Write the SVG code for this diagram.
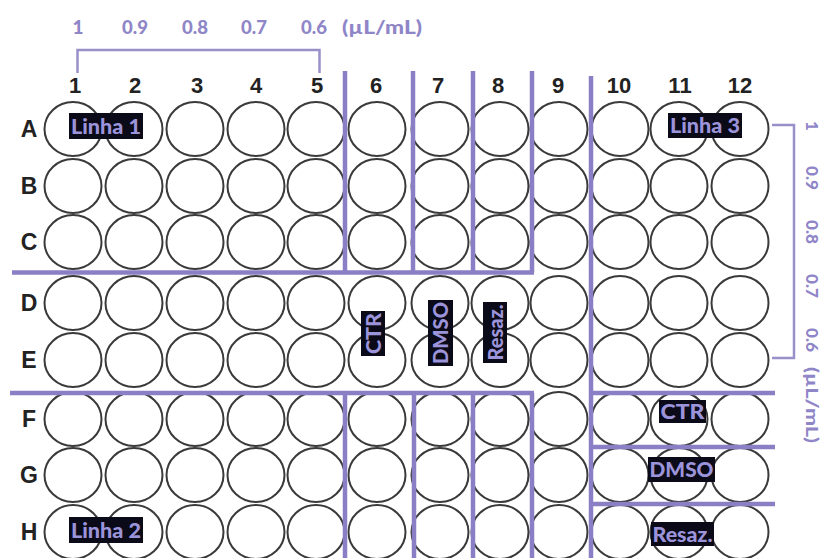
<svg xmlns="http://www.w3.org/2000/svg" width="822" height="558" viewBox="0 0 822 558">
<style>
.w{fill:none;stroke:#3a3a3a;stroke-width:2}
.hd{font-family:"Liberation Sans",Arial,sans-serif;font-weight:bold;font-size:22px;fill:#222;text-anchor:middle}
.rw{font-family:"Liberation Sans",Arial,sans-serif;font-weight:bold;font-size:23px;fill:#222;text-anchor:middle}
.conc{font-family:Lato,"Open Sans",sans-serif;font-weight:900;font-size:19px;fill:#8f86c8}
.concr{font-family:Lato,"Open Sans",sans-serif;font-weight:900;font-size:17px;fill:#8f86c8}
.div{stroke:#8a7fc4;stroke-width:4.5;fill:none}
.br{stroke:#9890c8;stroke-width:2.5;fill:none}
.box{fill:#0b0a18}
.lb{font-family:Lato,"Open Sans",sans-serif;font-weight:900;font-size:21px;fill:#9c94da;text-anchor:middle}
</style>
<defs>
<ellipse id="well" cx="0" cy="0" rx="28.5" ry="27" class="w"/>
</defs>
<rect width="822" height="558" fill="#fff"/>

<g id="concentration-top">
<text class="conc" x="78" y="34" text-anchor="middle">1</text>
<text class="conc" x="135" y="34" text-anchor="middle" textLength="26" lengthAdjust="spacingAndGlyphs">0.9</text>
<text class="conc" x="195" y="34" text-anchor="middle" textLength="26" lengthAdjust="spacingAndGlyphs">0.8</text>
<text class="conc" x="254" y="34" text-anchor="middle" textLength="26" lengthAdjust="spacingAndGlyphs">0.7</text>
<text class="conc" x="314" y="34" text-anchor="middle" textLength="26" lengthAdjust="spacingAndGlyphs">0.6</text>
<text class="conc" x="342" y="34" textLength="80" lengthAdjust="spacingAndGlyphs">(µL/mL)</text>
<path class="br" d="M77.5,73 V50 H319.5 V73"/>
</g>

<g id="concentration-right">
<text class="concr" transform="translate(806,126) rotate(90)" text-anchor="middle">1</text>
<text class="concr" transform="translate(806,178) rotate(90)" text-anchor="middle" textLength="24" lengthAdjust="spacingAndGlyphs">0.9</text>
<text class="concr" transform="translate(806,232) rotate(90)" text-anchor="middle" textLength="24" lengthAdjust="spacingAndGlyphs">0.8</text>
<text class="concr" transform="translate(806,286) rotate(90)" text-anchor="middle" textLength="24" lengthAdjust="spacingAndGlyphs">0.7</text>
<text class="concr" transform="translate(806,340) rotate(90)" text-anchor="middle" textLength="24" lengthAdjust="spacingAndGlyphs">0.6</text>
<text class="concr" transform="translate(806,367) rotate(90)" textLength="76" lengthAdjust="spacingAndGlyphs">(µL/mL)</text>
<path class="br" d="M772,125 H794 V358 H772"/>
</g>

<g id="column-headers">
<text class="hd" x="75" y="93">1</text>
<text class="hd" x="135" y="93">2</text>
<text class="hd" x="197" y="93">3</text>
<text class="hd" x="256" y="93">4</text>
<text class="hd" x="317" y="93">5</text>
<text class="hd" x="376" y="93">6</text>
<text class="hd" x="438" y="93">7</text>
<text class="hd" x="498" y="93">8</text>
<text class="hd" x="558" y="93">9</text>
<text class="hd" x="619" y="93">10</text>
<text class="hd" x="680" y="93">11</text>
<text class="hd" x="740" y="93">12</text>
</g>

<g id="row-headers">
<text class="rw" x="29" y="137">A</text>
<text class="rw" x="29" y="194">B</text>
<text class="rw" x="29" y="250">C</text>
<text class="rw" x="29" y="311">D</text>
<text class="rw" x="29" y="368">E</text>
<text class="rw" x="29" y="427">F</text>
<text class="rw" x="29" y="483">G</text>
<text class="rw" x="29" y="540">H</text>
</g>

<g id="wells">
<g id="row-A"><use href="#well" x="73" y="129"/><use href="#well" x="134" y="129"/><use href="#well" x="195" y="129"/><use href="#well" x="256" y="129"/><use href="#well" x="316" y="129"/><use href="#well" x="377" y="129"/><use href="#well" x="440" y="129"/><use href="#well" x="500" y="129"/><use href="#well" x="559" y="129"/><use href="#well" x="620" y="129"/><use href="#well" x="679" y="129"/><use href="#well" x="740" y="129"/></g>
<g id="row-B"><use href="#well" x="73" y="186"/><use href="#well" x="134" y="186"/><use href="#well" x="195" y="186"/><use href="#well" x="256" y="186"/><use href="#well" x="316" y="186"/><use href="#well" x="377" y="186"/><use href="#well" x="440" y="186"/><use href="#well" x="500" y="186"/><use href="#well" x="559" y="186"/><use href="#well" x="620" y="186"/><use href="#well" x="679" y="186"/><use href="#well" x="740" y="186"/></g>
<g id="row-C"><use href="#well" x="73" y="242"/><use href="#well" x="134" y="242"/><use href="#well" x="195" y="242"/><use href="#well" x="256" y="242"/><use href="#well" x="316" y="242"/><use href="#well" x="377" y="242"/><use href="#well" x="440" y="242"/><use href="#well" x="500" y="242"/><use href="#well" x="559" y="242"/><use href="#well" x="620" y="242"/><use href="#well" x="679" y="242"/><use href="#well" x="740" y="242"/></g>
<g id="row-D"><use href="#well" x="73" y="303"/><use href="#well" x="134" y="303"/><use href="#well" x="195" y="303"/><use href="#well" x="256" y="303"/><use href="#well" x="316" y="303"/><use href="#well" x="377" y="303"/><use href="#well" x="440" y="303"/><use href="#well" x="500" y="303"/><use href="#well" x="559" y="303"/><use href="#well" x="620" y="303"/><use href="#well" x="679" y="303"/><use href="#well" x="740" y="303"/></g>
<g id="row-E"><use href="#well" x="73" y="360"/><use href="#well" x="134" y="360"/><use href="#well" x="195" y="360"/><use href="#well" x="256" y="360"/><use href="#well" x="316" y="360"/><use href="#well" x="377" y="360"/><use href="#well" x="440" y="360"/><use href="#well" x="500" y="360"/><use href="#well" x="559" y="360"/><use href="#well" x="620" y="360"/><use href="#well" x="679" y="360"/><use href="#well" x="740" y="360"/></g>
<g id="row-F"><use href="#well" x="73" y="419"/><use href="#well" x="134" y="419"/><use href="#well" x="195" y="419"/><use href="#well" x="256" y="419"/><use href="#well" x="316" y="419"/><use href="#well" x="377" y="419"/><use href="#well" x="440" y="419"/><use href="#well" x="500" y="419"/><use href="#well" x="559" y="419"/><use href="#well" x="620" y="419"/><use href="#well" x="679" y="419"/><use href="#well" x="740" y="419"/></g>
<g id="row-G"><use href="#well" x="73" y="475"/><use href="#well" x="134" y="475"/><use href="#well" x="195" y="475"/><use href="#well" x="256" y="475"/><use href="#well" x="316" y="475"/><use href="#well" x="377" y="475"/><use href="#well" x="440" y="475"/><use href="#well" x="500" y="475"/><use href="#well" x="559" y="475"/><use href="#well" x="620" y="475"/><use href="#well" x="679" y="475"/><use href="#well" x="740" y="475"/></g>
<g id="row-H"><use href="#well" x="73" y="532"/><use href="#well" x="134" y="532"/><use href="#well" x="195" y="532"/><use href="#well" x="256" y="532"/><use href="#well" x="316" y="532"/><use href="#well" x="377" y="532"/><use href="#well" x="440" y="532"/><use href="#well" x="500" y="532"/><use href="#well" x="559" y="532"/><use href="#well" x="620" y="532"/><use href="#well" x="679" y="532"/><use href="#well" x="740" y="532"/></g>
</g>

<g id="dividers">
<path class="div" d="M345,71 V272.5 M413,71 V272.5 M473,71 V272.5 M532,71 V272.5"/>
<path class="div" d="M12,272.5 H534"/>
<path class="div" d="M10,393 H534"/>
<path class="div" d="M345,393 V558 M414,393 V558 M473,393 V558 M532,393 V558"/>
<path class="div" d="M591,76 V558"/>
<path class="div" d="M591,393 H775 M591,447 H775 M591,504 H775"/>
</g>

<g id="label-linha1"><rect class="box" x="69" y="113" width="74" height="26"/><text class="lb" x="106" y="133.5" textLength="70" lengthAdjust="spacingAndGlyphs">Linha 1</text></g>
<g id="label-linha3"><rect class="box" x="668" y="113" width="74" height="25"/><text class="lb" x="705" y="133" textLength="70" lengthAdjust="spacingAndGlyphs">Linha 3</text></g>
<g id="label-linha2"><rect class="box" x="69" y="517" width="74" height="26"/><text class="lb" x="106" y="537.5" textLength="70" lengthAdjust="spacingAndGlyphs">Linha 2</text></g>
<g id="label-ctr-v"><rect class="box" x="361" y="311" width="24" height="45"/><text class="lb" transform="translate(373,333.5) rotate(-90)" y="7.5" textLength="41" lengthAdjust="spacingAndGlyphs">CTR</text></g>
<g id="label-dmso-v"><rect class="box" x="428" y="300" width="25" height="66"/><text class="lb" transform="translate(440.5,333) rotate(-90)" y="7.5" textLength="62" lengthAdjust="spacingAndGlyphs">DMSO</text></g>
<g id="label-resaz-v"><rect class="box" x="483" y="302" width="24" height="61"/><text class="lb" transform="translate(495,332.5) rotate(-90)" y="7.5" textLength="56" lengthAdjust="spacingAndGlyphs">Resaz.</text></g>
<g id="label-ctr-h"><rect class="box" x="659" y="400" width="47" height="23"/><text class="lb" x="682.5" y="419" textLength="44" lengthAdjust="spacingAndGlyphs">CTR</text></g>
<g id="label-dmso-h"><rect class="box" x="648" y="457" width="67" height="25"/><text class="lb" x="681.5" y="477" textLength="64" lengthAdjust="spacingAndGlyphs">DMSO</text></g>
<g id="label-resaz-h"><rect class="box" x="651" y="522" width="63" height="24"/><text class="lb" x="682.5" y="541.5" textLength="60" lengthAdjust="spacingAndGlyphs">Resaz.</text></g>
</svg>
